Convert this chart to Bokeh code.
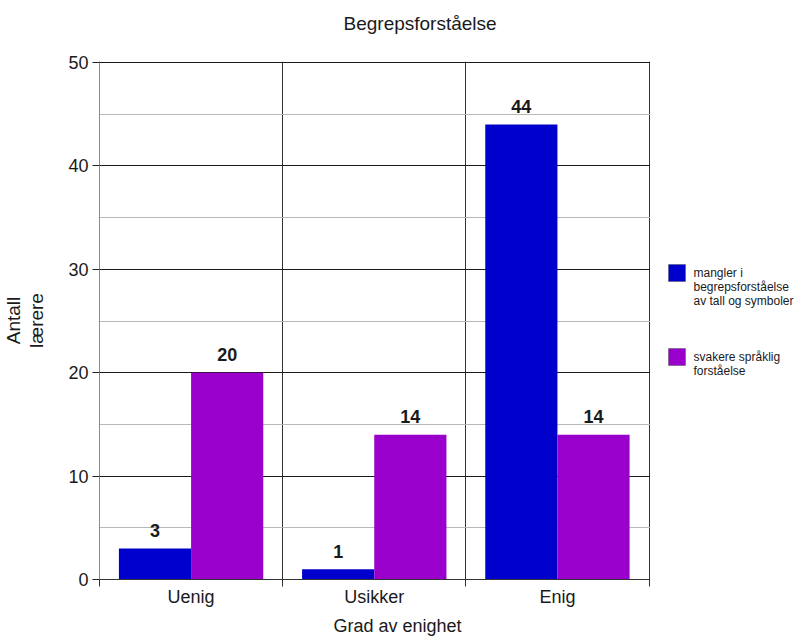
from bokeh.plotting import figure
from bokeh.layouts import row
from bokeh.models import (Range1d, FixedTicker, SingleIntervalTicker, Title,
                          ColumnDataSource)
from bokeh.transform import dodge
from bokeh.core.properties import value
from bokeh.embed import file_html
from bokeh.resources import INLINE

# ---- data ----
categories = ["Uenig", "Usikker", "Enig"]
mangler = [3, 1, 44]
svakere = [20, 14, 14]
series_labels = [
    ["mangler i", "begrepsforståelse", "av tall og symboler"],
    ["svakere språklig", "forståelse"],
]
series_colors = ["#0000cc", "#9900cc"]
title_text = "Begrepsforståelse"
x_title = "Grad av enighet"
y_title = ["Antall", "lærere"]
y_max = 50

FONT = "Liberation Sans"
TXT = "#1a1a1a"
W, H = 801, 640
MAIN_W = 650
L, T, B = 99, 61, 579   # frame edges on the canvas

x_centers = [i + 0.5 for i in range(len(categories))]
src = ColumnDataSource(dict(
    x=x_centers, mangler=mangler, svakere=svakere,
    mangler_lbl=[str(v) for v in mangler], svakere_lbl=[str(v) for v in svakere],
))

p = figure(width=MAIN_W, height=H, output_backend="svg", toolbar_location=None,
           x_range=Range1d(0, len(categories) * 1.0027),
           y_range=Range1d(0, y_max * 1.002),
           min_border_left=L, min_border_right=0,
           min_border_top=T, min_border_bottom=H - B)
p.outline_line_color = None
p.background_fill_color = "white"
p.border_fill_color = "white"

# spacer between frame and title, then the title itself (outermost)
p.add_layout(Title(text=" ", text_font_size="18px", standoff=4), "above")
p.title.text = title_text
p.title.align = "left"
p.title.offset = 343 - L
p.title.text_font = FONT
p.title.text_font_size = "19px"
p.title.text_font_style = "normal"
p.title.text_color = TXT
p.title.standoff = 4

# x axis: labels at centres, ticks at category boundaries
p.xaxis.ticker = FixedTicker(ticks=x_centers, minor_ticks=list(range(len(categories) + 1)))
p.xaxis.major_label_overrides = {c: lab for c, lab in zip(x_centers, categories)}
p.xaxis.major_tick_line_color = None
p.xaxis.major_tick_out = 0
p.xaxis.major_tick_in = 0
p.xaxis.minor_tick_line_color = "#333333"
p.xaxis.minor_tick_out = 7
p.xaxis.minor_tick_in = 0
p.xaxis.axis_line_color = "#333333"
p.xaxis.major_label_text_font = FONT
p.xaxis.major_label_text_font_size = "18px"
p.xaxis.major_label_text_color = TXT
p.xaxis.major_label_standoff = 0

p.add_layout(Title(text=x_title, align="left", offset=333 - L, text_font=FONT,
                   text_font_size="18px", text_font_style="normal",
                   text_color=TXT, standoff=8), "below")

# y axis
p.yaxis.ticker = SingleIntervalTicker(interval=10, num_minor_ticks=2)
p.yaxis.axis_line_color = "#8a8a8a"
p.yaxis.major_tick_line_color = "#222222"
p.yaxis.major_tick_out = 7
p.yaxis.major_tick_in = 0
p.yaxis.minor_tick_line_color = None
p.yaxis.major_label_text_font = FONT
p.yaxis.major_label_text_font_size = "18px"
p.yaxis.major_label_text_color = TXT
p.yaxis.major_label_standoff = 4
# two-line rotated y title: inner line as the axis label, outer line as a side title
p.yaxis.axis_label = y_title[1]
p.yaxis.axis_label_text_font = FONT
p.yaxis.axis_label_text_font_size = "19px"
p.yaxis.axis_label_text_font_style = "normal"
p.yaxis.axis_label_text_color = TXT
p.yaxis.axis_label_standoff = 18
p.add_layout(Title(text=y_title[0], align="center", text_font=FONT,
                   text_font_size="19px", text_font_style="normal",
                   text_color=TXT, standoff=0), "left")

# grids
p.xgrid.grid_line_color = None
p.xgrid.minor_grid_line_color = "#333333"
p.ygrid.grid_line_color = "#1a1a1a"
p.ygrid.minor_grid_line_color = "#b8b8b8"

# bars
off = 0.197
bw = 0.394
p.vbar(x=dodge("x", -off), top="mangler", width=bw, source=src,
       fill_color=series_colors[0], line_color=None)
p.vbar(x=dodge("x", off), top="svakere", width=bw, source=src,
       fill_color=series_colors[1], line_color=None)

# value labels
for col, lbl, o in (("mangler", "mangler_lbl", -off), ("svakere", "svakere_lbl", off)):
    p.text(x=dodge("x", o), y=col, text=lbl, source=src,
           text_align="center", text_baseline="middle", y_offset=-18,
           text_font=value(FONT), text_font_style="bold",
           text_font_size="18px", text_color=TXT)

# ---- legend panel: its frame is aligned with the main frame, so map y to canvas px ----
pl = figure(width=W - MAIN_W, height=H, output_backend="svg", toolbar_location=None,
            x_range=Range1d(MAIN_W, W), y_range=Range1d(B, T),
            x_axis_type=None, y_axis_type=None, min_border=0)
pl.outline_line_color = None
pl.grid.visible = False
pl.background_fill_color = "white"
pl.border_fill_color = "white"

sq_tops = [264, 348]
sq = 17
for k, (lines, color) in enumerate(zip(series_labels, series_colors)):
    top = sq_tops[k]
    pl.rect(x=[668 + sq / 2], y=[top + sq / 2], width=sq, height=sq,
            fill_color=color, line_color="#555555", line_width=0.5)
    pl.text(x=[693] * len(lines), y=[top + 8 + 14 * j for j in range(len(lines))],
            text=lines, text_align="left", text_baseline="middle",
            text_font=value(FONT), text_font_size="12px", text_color=TXT)

layout = row(p, pl)
open("out.html", "w").write(file_html(layout, INLINE))
